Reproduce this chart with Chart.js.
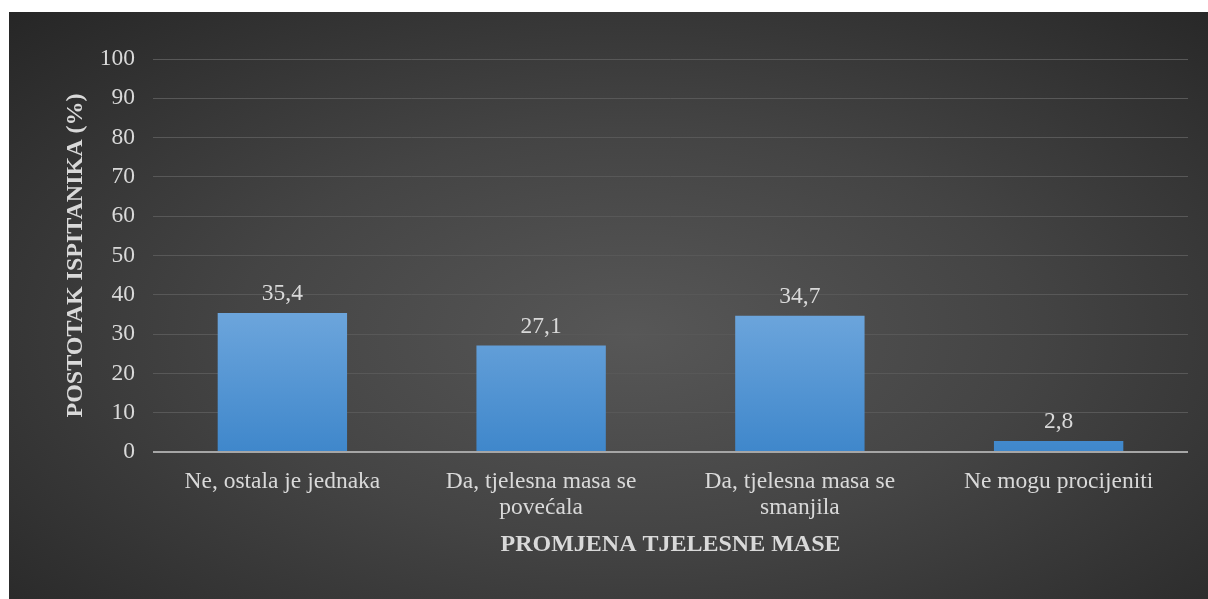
<!DOCTYPE html>
<html>
<head>
<meta charset="utf-8">
<script src="https://cdn.jsdelivr.net/npm/chart.js@4"></script>
<style>
  html, body { margin: 0; padding: 0; background: #fff; }
  #box {
    position: absolute; left: 9px; top: 12px; width: 1199px; height: 587px;
    background: radial-gradient(ellipse at 52% 55%, #575757 0%, #444 45%, #262626 100%);
  }
  canvas { display: block; }
</style>
</head>
<body>
<div id="box"><canvas id="chart" width="1199" height="587"></canvas></div>
<script>
const categories = [
  "Ne, ostala je jednaka",
  ["Da, tjelesna masa se", "povećala"],
  ["Da, tjelesna masa se", "smanjila"],
  "Ne mogu procijeniti",
];
const values = [35.4, 27.1, 34.7, 2.8];
const xTitle = "PROMJENA TJELESNE MASE";
const yTitle = "POSTOTAK ISPITANIKA (%)";

const textColor = "#d9d9d9";
const serif = "'Liberation Serif', 'Times New Roman', serif";

// value labels above bars, comma decimal
const barLabels = {
  id: "barLabels",
  afterDatasetsDraw(chart) {
    const ctx = chart.ctx;
    const meta = chart.getDatasetMeta(0);
    ctx.save();
    ctx.font = "23.5px " + serif;
    ctx.fillStyle = textColor;
    ctx.textAlign = "center";
    ctx.textBaseline = "bottom";
    meta.data.forEach((bar, i) => {
      ctx.fillText(String(values[i]).replace(".", ","), bar.x, bar.y - 7);
    });
    ctx.restore();
  },
};

function barGradient(context) {
  const chart = context.chart;
  const area = chart.chartArea;
  if (!area) return "#5b9bd5";
  const g = chart.ctx.createLinearGradient(0, area.top + area.height * 0.6, 0, area.bottom);
  g.addColorStop(0, "#72a9de");
  g.addColorStop(1, "#3f87cb");
  return g;
}

new Chart(document.getElementById("chart"), {
  type: "bar",
  data: {
    labels: categories,
    datasets: [
      {
        data: values,
        backgroundColor: barGradient,
        borderWidth: 0,
        categoryPercentage: 1,
        barPercentage: 0.5,
      },
    ],
  },
  options: {
    responsive: false,
    animation: false,
    layout: { padding: { top: 47, right: 20, left: 0, bottom: 0 } },
    plugins: {
      legend: { display: false },
      tooltip: { enabled: false },
    },
    scales: {
      x: {
        border: { display: false },
        grid: { display: false, drawTicks: false },
        ticks: {
          color: textColor,
          padding: 17,
          maxRotation: 0,
          autoSkip: false,
          font: { family: serif, size: 23.5, lineHeight: 1.1 },
        },
        title: {
          display: true,
          text: xTitle,
          color: textColor,
          font: { family: serif, size: 24, weight: "bold" },
          padding: { top: 0, bottom: 40 },
        },
        afterFit(scale) {
          scale.height = 147;
        },
      },
      y: {
        min: 0,
        max: 100,
        border: { display: false },
        grid: {
          drawTicks: false,
          color: (c) => (c.tick && c.tick.value === 0 ? "#a6a6a6" : "#585858"),
          lineWidth: (c) => (c.tick && c.tick.value === 0 ? 2 : 1),
        },
        ticks: {
          stepSize: 10,
          color: textColor,
          padding: 18,
          font: { family: serif, size: 23.5 },
        },
        title: {
          display: true,
          text: yTitle,
          color: textColor,
          font: { family: serif, size: 24, weight: "bold" },
          padding: { top: 52, bottom: 0 },
        },
        afterFit(scale) {
          scale.width = 144;
        },
      },
    },
  },
  plugins: [barLabels],
});
</script>
</body>
</html>
